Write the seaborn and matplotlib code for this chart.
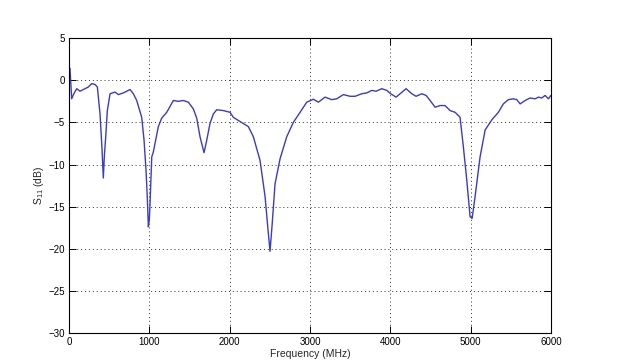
import numpy as np
import pandas as pd
import matplotlib
matplotlib.use("Agg")
import matplotlib.pyplot as plt
import seaborn as sns

freq = [0, 12, 33, 60, 96, 137, 199, 240, 282, 324, 353, 386, 410, 427, 440, 457, 477, 511,
        573, 614, 676, 760, 801, 843, 905, 934, 959, 975, 988, 1000, 1009, 1030, 1050, 1112,
        1154, 1217, 1299, 1361, 1423, 1486, 1548, 1590, 1631, 1681, 1715, 1756, 1797, 1839,
        1922, 2005, 2046, 2130, 2233, 2295, 2378, 2441, 2480, 2503, 2530, 2565, 2628, 2711,
        2793, 2877, 2960, 3042, 3105, 3188, 3271, 3333, 3416, 3499, 3562, 3645, 3707, 3770,
        3823, 3894, 3956, 4006, 4072, 4122, 4197, 4268, 4321, 4392, 4446, 4496, 4558, 4620,
        4682, 4745, 4807, 4869, 4910, 4953, 4994, 5019, 5056, 5118, 5181, 5264, 5346, 5408,
        5470, 5533, 5575, 5617, 5679, 5741, 5803, 5844, 5886, 5928, 5969, 6000]
s11 = [1.6, 1.4, -2.2, -1.6, -1.0, -1.3, -1.0, -0.8, -0.4, -0.5, -0.8, -4.0, -8.0, -11.6,
       -9.0, -6.7, -3.6, -1.6, -1.4, -1.7, -1.5, -1.1, -1.6, -2.4, -4.4, -7.1, -10.7, -14.0,
       -17.4, -16.5, -14.6, -9.1, -8.5, -5.5, -4.5, -3.8, -2.4, -2.5, -2.4, -2.6, -3.4, -4.5,
       -6.7, -8.6, -7.1, -5.1, -4.0, -3.5, -3.6, -3.8, -4.4, -4.9, -5.5, -6.7, -9.5, -13.8,
       -18.0, -20.3, -17.0, -12.3, -9.3, -6.7, -5.0, -3.8, -2.6, -2.25, -2.6, -2.0, -2.3,
       -2.2, -1.7, -1.9, -1.9, -1.6, -1.5, -1.2, -1.3, -1.0, -1.2, -1.6, -2.0, -1.6, -1.0,
       -1.6, -1.9, -1.6, -1.8, -2.4, -3.2, -3.0, -3.0, -3.6, -3.8, -4.4, -7.9, -11.9, -16.2,
       -16.4, -13.8, -9.1, -5.9, -4.7, -3.8, -2.8, -2.3, -2.2, -2.3, -2.8, -2.4, -2.1, -2.2,
       -2.0, -2.1, -1.8, -2.2, -1.8]
xticks = [0, 1000, 2000, 3000, 4000, 5000, 6000]
yticks = [5, 0, -5, -10, -15, -20, -25, -30]

df = pd.DataFrame({"freq": freq, "s11": s11})

sns.set_style("white")
plt.rcParams["font.family"] = ["Liberation Sans", "DejaVu Sans"]
plt.rcParams["mathtext.fontset"] = "custom"
plt.rcParams["mathtext.rm"] = "Liberation Sans"

fig = plt.figure(figsize=(6.19, 3.6), dpi=100)
ax = fig.add_axes([0.1115, 0.075, 0.7785, 0.819])

sns.lineplot(data=df, x="freq", y="s11", ax=ax, sort=False, estimator=None,
             color="#3b3bc4", linewidth=1.0)

ax.set_xlim(0, 6000)
ax.set_ylim(-30, 5)
ax.set_xticks(xticks)
ax.set_yticks(yticks)
ax.set_xticklabels([str(t) for t in xticks])
ax.set_yticklabels([str(t).replace("-", "\u2212") for t in yticks])
ax.grid(True, color="#333333", linestyle=(0, (1, 3)), linewidth=0.7)
ax.tick_params(direction="in", length=5, width=0.7, labelsize=7, colors="black",
               top=True, right=True, bottom=True, left=True, pad=3)
for sp in ax.spines.values():
    sp.set_visible(True)
    sp.set_color("black")
    sp.set_linewidth(0.8)

ax.set_xlabel("Frequency (MHz)", fontsize=7.5, labelpad=1)
ax.set_ylabel(r"S$_{\mathregular{11}}$ (dB)", fontsize=7.5, labelpad=2)

fig.savefig("out.png", dpi=100, facecolor="white")
